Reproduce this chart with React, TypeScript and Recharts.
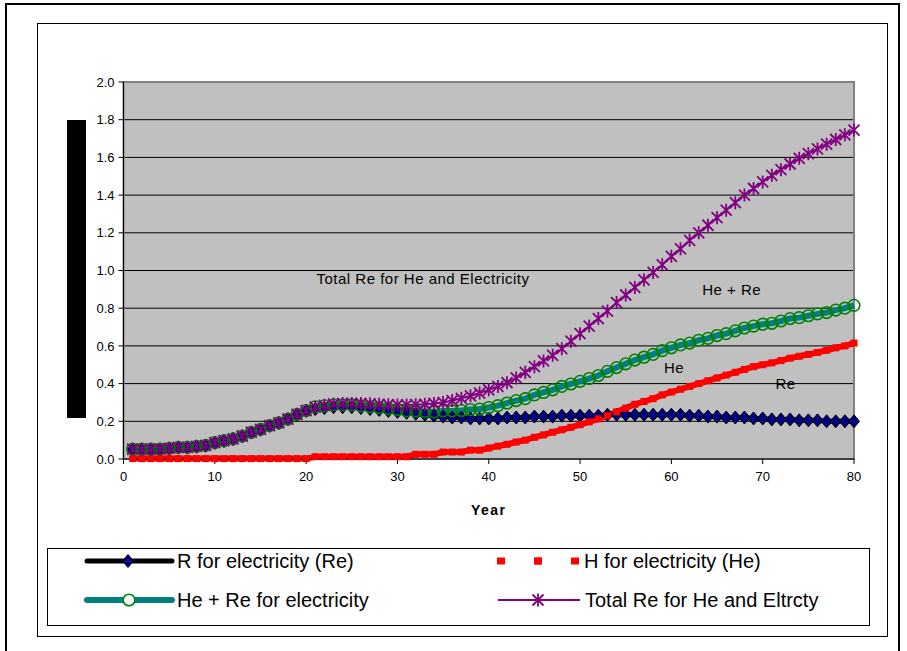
import { LineChart, Line, XAxis, YAxis, CartesianGrid, ReferenceArea, ReferenceDot } from 'recharts'

const FONT = '"Liberation Sans", Arial, sans-serif'

const years = [
    1, 2, 3, 4, 5, 6, 7, 8, 9, 10, 11, 12, 13, 14, 15, 16, 17, 18, 19, 20,
    21, 22, 23, 24, 25, 26, 27, 28, 29, 30, 31, 32, 33, 34, 35, 36, 37, 38, 39, 40,
    41, 42, 43, 44, 45, 46, 47, 48, 49, 50, 51, 52, 53, 54, 55, 56, 57, 58, 59, 60,
    61, 62, 63, 64, 65, 66, 67, 68, 69, 70, 71, 72, 73, 74, 75, 76, 77, 78, 79, 80,
]

// R for electricity (Re)
const reElectricity = [
    0.05, 0.05, 0.05, 0.05, 0.055, 0.06, 0.06, 0.065, 0.07, 0.085,
    0.095, 0.105, 0.12, 0.14, 0.155, 0.175, 0.19, 0.21, 0.235, 0.255,
    0.265, 0.27, 0.275, 0.275, 0.275, 0.27, 0.265, 0.26, 0.255, 0.25,
    0.245, 0.24, 0.235, 0.23, 0.225, 0.22, 0.22, 0.215, 0.215, 0.215,
    0.215, 0.22, 0.22, 0.22, 0.225, 0.225, 0.225, 0.23, 0.23, 0.23,
    0.23, 0.23, 0.235, 0.235, 0.235, 0.235, 0.235, 0.235, 0.235, 0.235,
    0.235, 0.23, 0.23, 0.225, 0.225, 0.22, 0.22, 0.22, 0.215, 0.215,
    0.21, 0.21, 0.21, 0.205, 0.205, 0.205, 0.2, 0.2, 0.2, 0.2,
]

// H for electricity (He)
const heElectricity = [
    0.002, 0.002, 0.002, 0.002, 0.002, 0.002, 0.002, 0.002, 0.002, 0.002,
    0.002, 0.002, 0.002, 0.002, 0.002, 0.002, 0.002, 0.002, 0.002, 0.002,
    0.012, 0.012, 0.012, 0.012, 0.012, 0.012, 0.012, 0.012, 0.012, 0.012,
    0.012, 0.025, 0.025, 0.025, 0.037, 0.037, 0.037, 0.047, 0.047, 0.058,
    0.068, 0.078, 0.09, 0.1, 0.115, 0.128, 0.142, 0.155, 0.168, 0.182,
    0.197, 0.213, 0.23, 0.25, 0.27, 0.29, 0.305, 0.32, 0.34, 0.355,
    0.37, 0.385, 0.4, 0.415, 0.43, 0.445, 0.46, 0.475, 0.49, 0.5,
    0.51, 0.522, 0.535, 0.545, 0.555, 0.565, 0.577, 0.59, 0.6, 0.615,
]

// He + Re for electricity
const heReElectricity = [
    0.052, 0.052, 0.052, 0.052, 0.057, 0.062, 0.062, 0.067, 0.072, 0.087,
    0.097, 0.107, 0.122, 0.142, 0.157, 0.177, 0.192, 0.212, 0.237, 0.257,
    0.277, 0.282, 0.287, 0.287, 0.287, 0.282, 0.277, 0.272, 0.267, 0.262,
    0.255, 0.255, 0.252, 0.25, 0.255, 0.255, 0.257, 0.262, 0.265, 0.273,
    0.283, 0.297, 0.31, 0.32, 0.34, 0.353, 0.367, 0.385, 0.398, 0.412,
    0.427, 0.443, 0.465, 0.485, 0.505, 0.525, 0.54, 0.555, 0.575, 0.59,
    0.605, 0.615, 0.63, 0.64, 0.655, 0.665, 0.68, 0.695, 0.705, 0.715,
    0.72, 0.732, 0.745, 0.75, 0.76, 0.77, 0.777, 0.79, 0.8, 0.815,
]

// Total Re for He and Eltrcty
const totalRe = [
    0.052, 0.052, 0.052, 0.052, 0.057, 0.062, 0.062, 0.067, 0.072, 0.087,
    0.097, 0.107, 0.122, 0.142, 0.157, 0.177, 0.192, 0.212, 0.237, 0.257,
    0.275, 0.285, 0.292, 0.295, 0.295, 0.295, 0.293, 0.29, 0.288, 0.287,
    0.287, 0.288, 0.29, 0.295, 0.3, 0.31, 0.322, 0.335, 0.35, 0.367,
    0.385, 0.405, 0.43, 0.46, 0.49, 0.52, 0.55, 0.585, 0.625, 0.665,
    0.705, 0.745, 0.785, 0.83, 0.87, 0.91, 0.95, 0.99, 1.03, 1.075,
    1.115, 1.16, 1.2, 1.24, 1.28, 1.32, 1.36, 1.4, 1.435, 1.47,
    1.505, 1.535, 1.565, 1.595, 1.62, 1.645, 1.67, 1.695, 1.72, 1.745,
]

const xTicks = [0, 10, 20, 30, 40, 50, 60, 70, 80]
const yTicks = [0, 0.2, 0.4, 0.6, 0.8, 1.0, 1.2, 1.4, 1.6, 1.8, 2.0]

const notes = [
    { text: 'Total Re for He and Electricity', year: 32.8, value: 0.955 },
    { text: 'He + Re', year: 66.6, value: 0.9 },
    { text: 'He', year: 60.3, value: 0.483 },
    { text: 'Re', year: 72.5, value: 0.398 },
]

const data = years.map((year, i) => ({
    year,
    re: reElectricity[i],
    he: heElectricity[i],
    heRe: heReElectricity[i],
    total: totalRe[i],
}))

const diamond = (cx: number, cy: number) =>
    `M${cx},${cy - 6.5} L${cx + 5.5},${cy} L${cx},${cy + 6.5} L${cx - 5.5},${cy} Z`

const asterisk = (cx: number, cy: number) =>
    `M${cx - 5.5},${cy - 5.5} L${cx + 5.5},${cy + 5.5} M${cx - 5.5},${cy + 5.5} L${cx + 5.5},${cy - 5.5} M${cx},${cy - 6.5} L${cx},${cy + 6.5}`

const DiamondDot = (p: any) => (
    <path key={`re-${p.index}`} d={diamond(p.cx, p.cy)} fill="#000080" stroke="#000" strokeWidth={1} />
)
const SquareDot = (p: any) => (
    <rect key={`he-${p.index}`} x={p.cx - 3.5} y={p.cy - 3.5} width={7} height={7} fill="#FF0000" />
)
const CircleDot = (p: any) => (
    <circle key={`hr-${p.index}`} cx={p.cx} cy={p.cy} r={5.8} fill="none" stroke="#008000" strokeWidth={1.6} />
)
const StarDot = (p: any) => (
    <path key={`tot-${p.index}`} d={asterisk(p.cx, p.cy)} stroke="#800080" strokeWidth={1.8} fill="none" />
)

function LegendBox() {
    const t = { fontFamily: FONT, fontSize: 20, fill: '#000' }
    return (
        <svg width={907} height={651} style={{ position: 'absolute', left: 0, top: 0 }}>
            <rect x={47.5} y={548.5} width={822} height={77} fill="#fff" stroke="#000" />
            {/* Re */}
            <line x1={87} y1={561} x2={172} y2={561} stroke="#000" strokeWidth={5} strokeLinecap="round" />
            <path d={diamond(128, 561)} fill="#000080" stroke="#000" />
            <text x={177} y={568} {...t}>R for electricity (Re)</text>
            {/* He */}
            <line x1={497} y1={561} x2={580} y2={561} stroke="#FF0000" strokeWidth={7} strokeDasharray="8 29" />
            <rect x={534.5} y={557.5} width={7} height={7} fill="#FF0000" />
            <text x={584} y={568} {...t}>H for electricity (He)</text>
            {/* He + Re */}
            <line x1={87} y1={600} x2={172} y2={600} stroke="#008080" strokeWidth={6} strokeLinecap="round" />
            <circle cx={129} cy={600} r={5.8} fill="#fff" stroke="#008000" strokeWidth={1.6} />
            <text x={177} y={607} {...t}>He + Re for electricity</text>
            {/* Total */}
            <line x1={498} y1={600} x2={580} y2={600} stroke="#800080" strokeWidth={2} />
            <path d={asterisk(538, 600)} stroke="#800080" strokeWidth={1.8} fill="none" />
            <text x={585} y={607} {...t}>Total Re for He and Eltrcty</text>
        </svg>
    )
}

export default function App() {
    const tick = { fontFamily: FONT, fontSize: 13, fill: '#000' }
    return (
        <div style={{ position: 'absolute', left: 0, top: 0, width: 907, height: 651, overflow: 'hidden', background: '#fff' }}>
            <div style={{ position: 'absolute', left: 5, top: 3, width: 891, height: 700, border: '2px solid #000' }} />
            <div style={{ position: 'absolute', left: 37, top: 23, width: 849, height: 612, border: '1px solid #000' }} />
            <div style={{ position: 'absolute', left: 67, top: 120, width: 19, height: 298, background: '#000' }} />

            <div style={{ position: 'absolute', left: 0, top: 0 }}>
                <LineChart
                    width={907}
                    height={651}
                    data={data}
                    margin={{ top: 82, right: 53, bottom: 132, left: 63.5 }}
                >
                    <CartesianGrid vertical={false} stroke="#000" fill="#C0C0C0" fillOpacity={1} />
                    <ReferenceArea x1={0} x2={80} y1={0} y2={2} fill="none" stroke="#808080" strokeWidth={2} />
                    <XAxis
                        dataKey="year"
                        type="number"
                        domain={[0, 80]}
                        ticks={xTicks}
                        height={60}
                        tick={tick}
                        tickSize={5}
                        tickMargin={8}
                        stroke="#000"
                        label={{
                            value: 'Year',
                            position: 'insideBottom',
                            offset: 4,
                            fontFamily: FONT,
                            fontSize: 14,
                            fontWeight: 'bold',
                            letterSpacing: 1.5,
                            fill: '#000',
                        }}
                    />
                    <YAxis
                        type="number"
                        domain={[0, 2]}
                        ticks={yTicks}
                        width={60}
                        tick={tick}
                        tickSize={5}
                        tickMargin={4}
                        stroke="#000"
                        tickFormatter={(v: number) => v.toFixed(1)}
                    />
                    <Line
                        dataKey="re"
                        type="linear"
                        stroke="#000"
                        strokeWidth={5}
                        dot={DiamondDot}
                        activeDot={false}
                        isAnimationActive={false}
                    />
                    <Line
                        dataKey="he"
                        type="linear"
                        stroke="#FF0000"
                        strokeWidth={6}
                        dot={SquareDot}
                        activeDot={false}
                        isAnimationActive={false}
                    />
                    <Line
                        dataKey="heRe"
                        type="linear"
                        stroke="#008080"
                        strokeWidth={6}
                        dot={CircleDot}
                        activeDot={false}
                        isAnimationActive={false}
                    />
                    <Line
                        dataKey="total"
                        type="linear"
                        stroke="#800080"
                        strokeWidth={2}
                        dot={StarDot}
                        activeDot={false}
                        isAnimationActive={false}
                    />
                    {notes.map((n) => (
                        <ReferenceDot
                            key={n.text}
                            x={n.year}
                            y={n.value}
                            r={0}
                            stroke="none"
                            label={{
                                value: n.text,
                                position: 'center',
                                fontFamily: FONT,
                                fontSize: 15,
                                letterSpacing: 0.5,
                                fill: '#000',
                            }}
                        />
                    ))}
                </LineChart>
            </div>

            <LegendBox />
        </div>
    )
}
